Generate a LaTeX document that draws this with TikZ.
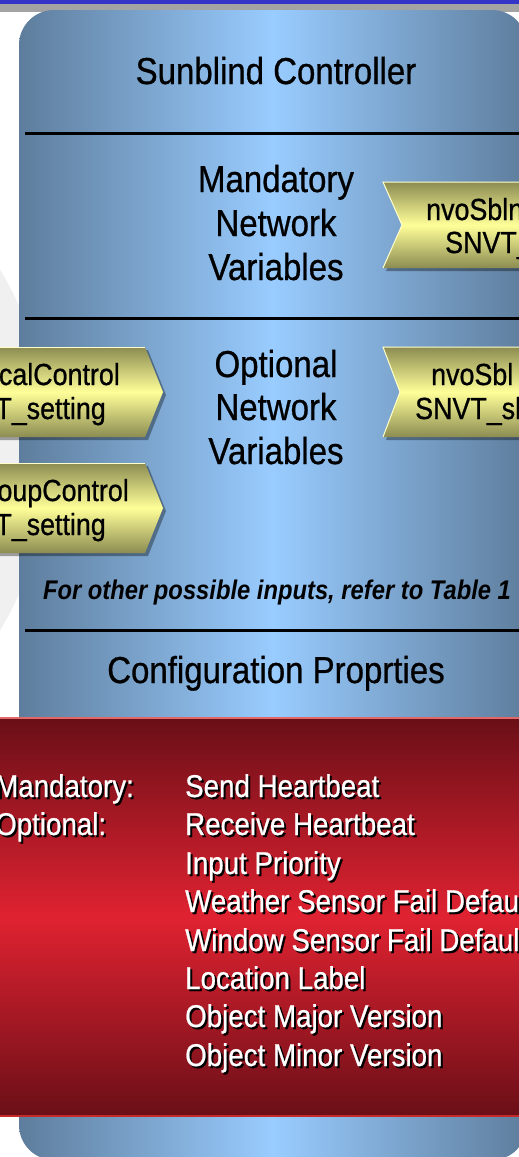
\documentclass[tikz,border=0pt]{standalone}
\usepackage{fontspec}
\setmainfont[FakeStretch=0.88, UprightFeatures={FakeBold=0.7}]{Liberation Sans}
\definecolor{bluedge}{HTML}{5E7D9C}
\definecolor{bluemid}{HTML}{99CCFF}
\definecolor{reddark}{HTML}{6A0F17}
\definecolor{redmid}{HTML}{E02231}
\definecolor{redtop}{HTML}{E06868}
\definecolor{redbot}{HTML}{C42A2A}
\definecolor{yeldark}{HTML}{8C8C52}
\definecolor{yellight}{HTML}{FFFF99}
\definecolor{yeledge}{HTML}{FFFFCC}
\definecolor{topband}{HTML}{3434C8}
\newcommand\shadowed[1]{\makebox[0pt][l]{\hspace{2pt}\raisebox{-2pt}{\color{black}#1}}#1}

\begin{document}
\begin{tikzpicture}[x=1pt,y=-1pt,
  hd/.style={inner sep=0pt, anchor=base, font=\fontsize{37.5}{44}\selectfont},
  tag/.style={inner sep=0pt, font=\fontsize{30.5}{36}\selectfont},
  cp/.style={inner sep=0pt, anchor=base west, text=white, font=\fontsize{31.5}{38}\selectfont},
  sep/.style={line width=3pt, black},
  arrowbox/.style={top color=yeldark, bottom color=yeldark, middle color=yellight},
  shad/.style={fill=black, opacity=.35}]
\useasboundingbox (0,0) rectangle (519,1157);
\clip (0,0) rectangle (519,1157);
\fill[white] (0,0) rectangle (519,1157);
\fill[black!6] (-300,450) circle (350);
\fill[topband] (0,0) rectangle (519,4);
\fill[black!36] (0,4) rectangle (519,12);
% controller body
\shade[left color=bluedge, right color=bluedge, middle color=bluemid, rounded corners=35pt] (19,10) rectangle (527,1160);
\draw[sep] (25,133) -- (527,133);
\draw[sep] (25,318) -- (527,318);
\draw[sep] (25,630) -- (527,630);
\node[hd] (title) at (276,84) {Sunblind Controller};
\node[hd] (man1) at (276,192) {Mandatory};
\node[hd] (man2) at (276,236) {Network};
\node[hd] (man3) at (276,280) {Variables};
\node[hd] (opt1) at (276,377) {Optional};
\node[hd] (opt2) at (276,420) {Network};
\node[hd] (opt3) at (276,464) {Variables};
\node[inner sep=0pt, anchor=base, font=\fontsize{27}{32}\selectfont\bfseries\itshape] (note) at (277,599) {For other possible inputs, refer to Table 1};
\node[hd] (conf) at (276,683) {Configuration Proprties};
% outputs (right)
\fill[shad] (386,185) -- (623,185) -- (623,271) -- (386,271) -- (405,228) -- cycle;
\shade[arrowbox] (383,182) -- (620,182) -- (620,268) -- (383,268) -- (402,225) -- cycle;
\draw[yeledge, line width=1pt] (620,182) -- (383,182) -- (402,225) -- (383,268);
\fill[shad] (386,350) -- (623,350) -- (623,440) -- (386,440) -- (403,395) -- cycle;
\shade[arrowbox] (383,347) -- (620,347) -- (620,437) -- (383,437) -- (400,392) -- cycle;
\draw[yeledge, line width=1pt] (620,347) -- (383,347) -- (400,392) -- (383,437);
\node[tag, anchor=base west] (o1a) at (426,220) {nvoSbln};
\node[tag, anchor=base west] (o1b) at (445,253) {SNVT\_s};
\node[tag, anchor=base west] (o2a) at (431,385) {nvoSbl};
\node[tag, anchor=base west] (o2b) at (415,419) {SNVT\_sb};
% inputs (left)
\fill[shad] (-97,350) -- (148,350) -- (166,395) -- (148,440) -- (-97,440) -- cycle;
\shade[arrowbox] (-100,347) -- (145,347) -- (163,392) -- (145,437) -- (-100,437) -- cycle;
\draw[yeledge, line width=1pt] (-100,347) -- (145,347);
\fill[shad] (-97,466) -- (148,466) -- (166,511) -- (148,556) -- (-97,556) -- cycle;
\shade[arrowbox] (-100,463) -- (145,463) -- (163,508) -- (145,553) -- (-100,553) -- cycle;
\draw[yeledge, line width=1pt] (-100,463) -- (145,463);
\node[tag, anchor=base east] (i1a) at (120,385) {calControl};
\node[tag, anchor=base east] (i1b) at (106,419) {T\_setting};
\node[tag, anchor=base east] (i2a) at (129,501) {oupControl};
\node[tag, anchor=base east] (i2b) at (106,535) {T\_setting};
% configuration properties
\shade[top color=reddark, bottom color=reddark, middle color=redmid] (0,718) rectangle (519,1116);
\draw[redtop, line width=2pt] (0,718) -- (519,718);
\draw[redbot, line width=1.5pt] (0,1116) -- (519,1116);
\node[cp] (mand) at (-5,797) {\shadowed{Mandatory:}};
\node[cp] (opt) at (-5,835) {\shadowed{Optional:}};
\node[cp] (cp1) at (185,797) {\shadowed{Send Heartbeat}};
\node[cp] (cp2) at (185,835) {\shadowed{Receive Heartbeat}};
\node[cp] (cp3) at (185,874) {\shadowed{Input Priority}};
\node[cp] (cp4) at (185,912) {\shadowed{Weather Sensor Fail Default}};
\node[cp] (cp5) at (185,951) {\shadowed{Window Sensor Fail Default}};
\node[cp] (cp6) at (185,989) {\shadowed{Location Label}};
\node[cp] (cp7) at (185,1027) {\shadowed{Object Major Version}};
\node[cp] (cp8) at (185,1066) {\shadowed{Object Minor Version}};
\end{tikzpicture}
\end{document}
